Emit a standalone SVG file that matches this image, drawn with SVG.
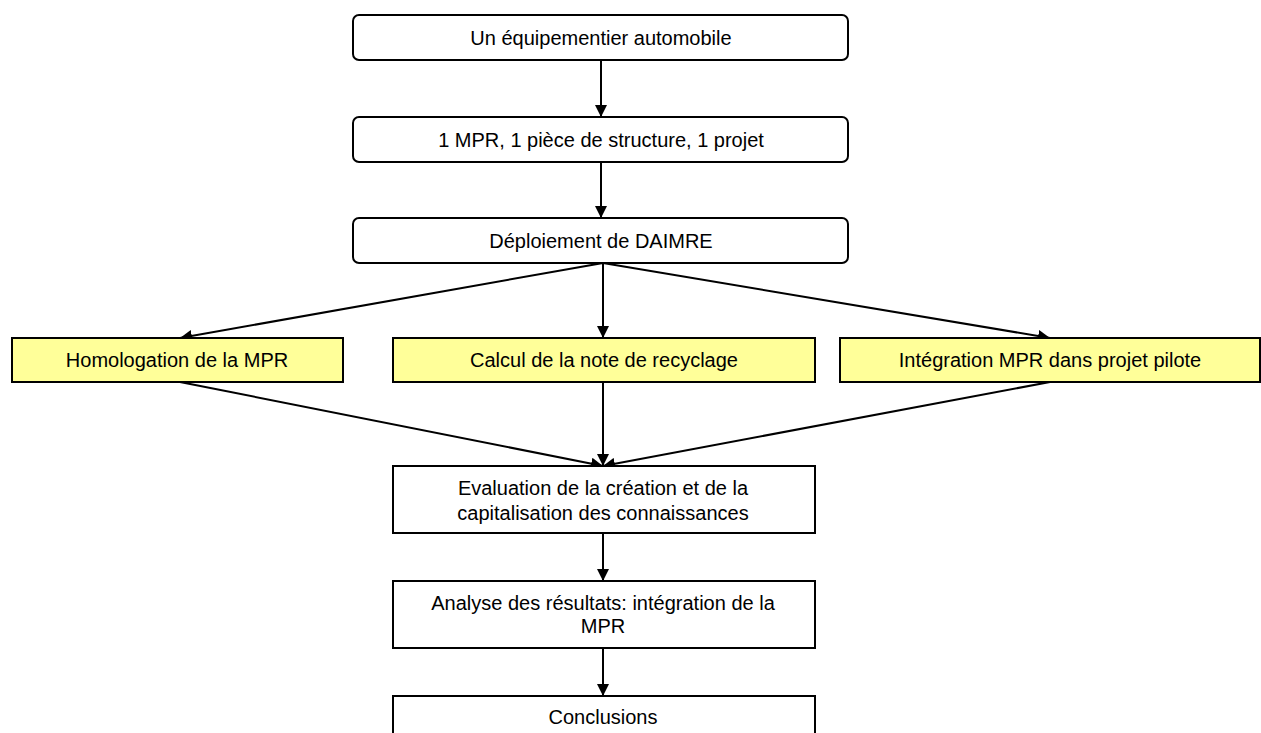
<svg xmlns="http://www.w3.org/2000/svg" width="1261" height="733" viewBox="0 0 1261 733">
<style>
.rb{fill:#fff;stroke:#000;stroke-width:2}
.yb{fill:#ffff99;stroke:#000;stroke-width:2}
.wb{fill:#fff;stroke:#000;stroke-width:2}
.t{font-family:"Liberation Sans",Arial,sans-serif;font-size:20px;fill:#000;text-anchor:middle}
.c{stroke:#000;stroke-width:2;fill:none;marker-end:url(#ah)}
</style>
<defs>
<marker id="ah" markerWidth="12" markerHeight="12" viewBox="0 0 12 12" refX="12" refY="6" orient="auto" markerUnits="userSpaceOnUse">
<path d="M0,0 L12,6 L0,12 Z" fill="#000"/>
</marker>
</defs>
<rect width="1261" height="733" fill="#fff"/>
<g id="connectors">
<line class="c" x1="601" y1="60" x2="601" y2="117"/>
<line class="c" x1="601" y1="162" x2="601" y2="218"/>
<line class="c" x1="603" y1="263" x2="180" y2="338"/>
<line class="c" x1="603" y1="263" x2="603" y2="338"/>
<line class="c" x1="603" y1="263" x2="1050" y2="338"/>
<line class="c" x1="180" y1="382" x2="603" y2="466"/>
<line class="c" x1="603" y1="382" x2="603" y2="466"/>
<line class="c" x1="1050" y1="382" x2="603" y2="466"/>
<line class="c" x1="603" y1="533" x2="603" y2="581"/>
<line class="c" x1="603" y1="648" x2="603" y2="696"/>
</g>
<g id="n1"><rect class="rb" x="353" y="15" width="495" height="45" rx="6"/><text class="t" x="601" y="45">Un équipementier automobile</text></g>
<g id="n2"><rect class="rb" x="353" y="117" width="495" height="45" rx="6"/><text class="t" x="601" y="147">1 MPR, 1 pièce de structure, 1 projet</text></g>
<g id="n3"><rect class="rb" x="353" y="218" width="495" height="45" rx="6"/><text class="t" x="601" y="248">Déploiement de DAIMRE</text></g>
<g id="n4"><rect class="yb" x="12" y="338" width="331" height="44"/><text class="t" x="177" y="367">Homologation de la MPR</text></g>
<g id="n5"><rect class="yb" x="393" y="338" width="422" height="44"/><text class="t" x="604" y="367">Calcul de la note de recyclage</text></g>
<g id="n6"><rect class="yb" x="840" y="338" width="420" height="44"/><text class="t" x="1050" y="367">Intégration MPR dans projet pilote</text></g>
<g id="n7"><rect class="wb" x="393" y="466" width="422" height="67"/><text class="t" x="603" y="495">Evaluation de la création et de la</text><text class="t" x="603" y="520">capitalisation des connaissances</text></g>
<g id="n8"><rect class="wb" x="393" y="581" width="422" height="67"/><text class="t" x="603" y="610">Analyse des résultats: intégration de la</text><text class="t" x="603" y="633">MPR</text></g>
<g id="n9"><rect class="wb" x="393" y="696" width="422" height="60"/><text class="t" x="603" y="724">Conclusions</text></g>
</svg>
